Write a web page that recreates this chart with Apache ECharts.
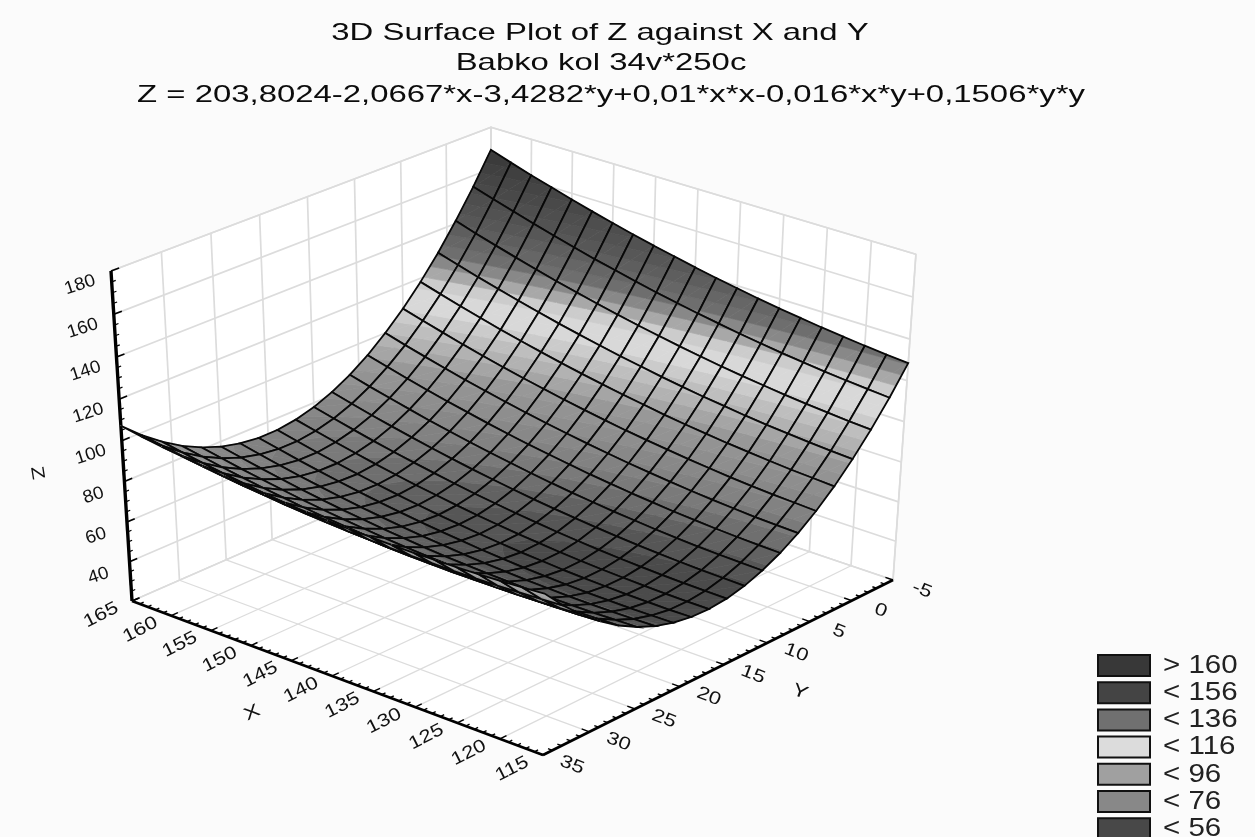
<!DOCTYPE html>
<html><head><meta charset="utf-8">
<style>html,body{margin:0;padding:0;background:#fbfbfb}#c{width:1255px;height:837px}</style>
<script src="https://cdn.jsdelivr.net/npm/echarts@6/dist/echarts.min.js"></script>
</head><body><div id="c"></div>
<script>
var titleLines = ['3D Surface Plot of Z against X and Y','Babko kol 34v*250c','Z = 203,8024-2,0667*x-3,4282*y+0,01*x*x-0,016*x*y+0,1506*y*y'];
var xValues = [115,117.5,120,122.5,125,127.5,130,132.5,135,137.5,140,142.5,145,147.5,150,152.5,155,157.5,160,162.5,165];
var yValues = [-5,-3,-1,1,3,5,7,9,11,13,15,17,19,21,23,25,27,29,31,33,35];
var zAtYm5=[128.5,129.3,130.3,131.4,132.6,134.0,135.4,137.0,138.8,140.6,142.6,144.7,146.9,149.2,151.7,154.3,157.0,159.9,162.8,165.9,169.2];
var zAtYm3=[115.5,116.3,117.2,118.2,119.4,120.6,122.0,123.5,125.2,126.9,128.8,130.8,133.0,135.3,137.6,140.2,142.8,145.6,148.5,151.5,154.6];
var zAtYm1=[103.8,104.5,105.3,106.2,107.3,108.5,109.8,111.2,112.8,114.5,116.3,118.2,120.3,122.5,124.8,127.2,129.8,132.5,135.3,138.2,141.3];
var zAtY1=[93.3,93.9,94.6,95.5,96.4,97.5,98.8,100.1,101.6,103.2,105.0,106.8,108.8,110.9,113.1,115.5,118.0,120.6,123.3,126.2,129.1];
var zAtY3=[83.9,84.5,85.1,85.9,86.8,87.8,89.0,90.2,91.6,93.2,94.8,96.6,98.5,100.5,102.7,104.9,107.3,109.9,112.5,115.3,118.2];
var zAtY5=[75.8,76.3,76.8,77.5,78.3,79.3,80.4,81.6,82.9,84.3,85.9,87.6,89.4,91.4,93.4,95.6,97.9,100.4,103.0,105.7,108.5];
var zAtY7=[68.9,69.3,69.7,70.4,71.1,72.0,73.0,74.1,75.3,76.7,78.2,79.8,81.5,83.4,85.4,87.5,89.7,92.1,94.6,97.2,100.0];
var zAtY9=[63.2,63.5,63.9,64.4,65.1,65.8,66.8,67.8,69.0,70.2,71.7,73.2,74.8,76.6,78.5,80.6,82.7,85.0,87.4,90.0,92.6];
var zAtY11=[58.7,58.9,59.2,59.6,60.2,60.9,61.8,62.7,63.8,65.0,66.3,67.8,69.4,71.1,72.9,74.9,76.9,79.2,81.5,83.9,86.5];
var zAtY13=[55.3,55.5,55.7,56.1,56.6,57.2,58.0,58.9,59.9,61.0,62.2,63.6,65.1,66.7,68.5,70.4,72.4,74.5,76.7,79.1,81.6];
var zAtY15=[53.2,53.3,53.5,53.8,54.2,54.7,55.4,56.2,57.1,58.2,59.3,60.6,62.0,63.6,65.3,67.1,69.0,71.0,73.2,75.5,77.9];
var zAtY17=[52.3,52.3,52.4,52.6,53.0,53.4,54.0,54.7,55.6,56.5,57.6,58.8,60.2,61.7,63.2,65.0,66.8,68.8,70.9,73.1,75.4];
var zAtY19=[52.7,52.5,52.6,52.7,53.0,53.3,53.8,54.5,55.2,56.1,57.1,58.3,59.5,60.9,62.4,64.1,65.8,67.7,69.7,71.9,74.1];
var zAtY21=[54.2,54.0,53.9,54.0,54.1,54.4,54.9,55.4,56.1,56.9,57.9,58.9,60.1,61.4,62.8,64.4,66.1,67.9,69.8,71.9,74.0];
var zAtY23=[56.9,56.6,56.5,56.4,56.5,56.8,57.1,57.6,58.2,58.9,59.8,60.7,61.8,63.1,64.4,65.9,67.5,69.2,71.1,73.1,75.2];
var zAtY25=[60.8,60.5,60.2,60.1,60.1,60.3,60.6,61.0,61.5,62.1,62.9,63.8,64.8,66.0,67.2,68.6,70.1,71.8,73.6,75.5,77.5];
var zAtY27=[65.9,65.5,65.2,65.0,65.0,65.0,65.2,65.5,66.0,66.5,67.2,68.0,69.0,70.0,71.2,72.5,74.0,75.6,77.2,79.1,81.0];
var zAtY29=[72.3,71.8,71.4,71.1,71.0,70.9,71.1,71.3,71.7,72.1,72.8,73.5,74.3,75.3,76.4,77.7,79.0,80.5,82.1,83.9,85.7];
var zAtY31=[79.8,79.2,78.7,78.4,78.2,78.1,78.1,78.3,78.5,78.9,79.5,80.1,80.9,81.8,82.9,84.0,85.3,86.7,88.2,89.9,91.7];
var zAtY33=[88.5,87.9,87.3,86.9,86.6,86.4,86.4,86.4,86.6,87.0,87.4,88.0,88.7,89.5,90.5,91.5,92.7,94.1,95.5,97.1,98.8];
var zAtY35=[98.5,97.7,97.1,96.6,96.2,96.0,95.8,95.8,96.0,96.2,96.6,97.1,97.7,98.4,99.3,100.3,101.4,102.7,104.0,105.5,107.2];
var zGrid=[zAtYm5,zAtYm3,zAtYm1,zAtY1,zAtY3,zAtY5,zAtY7,zAtY9,zAtY11,zAtY13,zAtY15,zAtY17,zAtY19,zAtY21,zAtY23,zAtY25,zAtY27,zAtY29,zAtY31,zAtY33,zAtY35];
var xTickLabels=[115,120,125,130,135,140,145,150,155,160,165];
var yTickLabels=[-5,0,5,10,15,20,25,30,35];
var zTickLabels=[40,60,80,100,120,140,160,180];
var legendLabels=['> 160','< 156','< 136','< 116','< 96','< 76','< 56'];
var legendGrays=[0x38,0x44,0x70,0xdc,0xa0,0x88,0x48];
var shadeLevels=[48,52,56,62,68,75,82,90,95,100,105,110,117,119,122,125,129,141,155,169];
var shadeGrays=[0x40,0x46,0x50,0x62,0x76,0x84,0x8e,0x98,0xa8,0xb8,0xc8,0xd8,0xd8,0xc0,0xa8,0x90,0x70,0x58,0x48,0x38];
var BAND=4;

var XMIN=115,XMAX=165,YMIN=-5,YMAX=35,ZMIN=20,ZMAX=180;
var cam=(function(){
  var p00=[132,601],p10=[543,755],p01=[491,444],p11=[893,580],top00=[111,271],i=-0.055;
  var dx1=p10[0]-p11[0],dx2=p01[0]-p11[0],sx=p00[0]-p10[0]+p11[0]-p01[0];
  var dy1=p10[1]-p11[1],dy2=p01[1]-p11[1],sy=p00[1]-p10[1]+p11[1]-p01[1];
  var det=dx1*dy2-dx2*dy1,g=(sx*dy2-dx2*sy)/det,h=(dx1*sy-sx*dy1)/det;
  return {g:g,h:h,i:i,
    A:[p10[0]-p00[0]+g*p10[0],p10[1]-p00[1]+g*p10[1]],
    B:[p01[0]-p00[0]+h*p01[0],p01[1]-p00[1]+h*p01[1]],
    C:[top00[0]*(1+i)-p00[0],top00[1]*(1+i)-p00[1]],D:p00};
})();
function project(X,Y,Z){
  var u=(XMAX-X)/(XMAX-XMIN),v=(YMAX-Y)/(YMAX-YMIN),w=(Z-ZMIN)/(ZMAX-ZMIN);
  var d=1+cam.g*u+cam.h*v+cam.i*w;
  return [(cam.A[0]*u+cam.B[0]*v+cam.C[0]*w+cam.D[0])/d,(cam.A[1]*u+cam.B[1]*v+cam.C[1]*w+cam.D[1])/d];
}
function shade(z){
  var n=shadeLevels.length,g;
  if(z<=shadeLevels[0])g=shadeGrays[0];
  else if(z>=shadeLevels[n-1])g=shadeGrays[n-1];
  else for(var k=0;k<n-1;k++)if(z>=shadeLevels[k]&&z<shadeLevels[k+1]){
    g=shadeGrays[k]+(shadeGrays[k+1]-shadeGrays[k])*(z-shadeLevels[k])/(shadeLevels[k+1]-shadeLevels[k]);break;}
  g=Math.round(g);return 'rgb('+g+','+g+','+g+')';
}
function clipZ(poly,level,above){
  var out=[];
  for(var k=0;k<poly.length;k++){
    var a=poly[k],b=poly[(k+1)%poly.length];
    var ia=above?a[2]>=level:a[2]<=level, ib=above?b[2]>=level:b[2]<=level;
    if(ia)out.push(a);
    if(ia!==ib){var t=(level-a[2])/(b[2]-a[2]);out.push([a[0]+(b[0]-a[0])*t,a[1]+(b[1]-a[1])*t,level]);}
  }
  return out;
}
var chart=echarts.init(document.getElementById('c'),null,{renderer:'canvas'});
function pt(api,X,Y,Z){return api.coord(project(X,Y,Z));}

var walls=[[XMAX,YMAX,ZMIN, XMAX,YMIN,ZMIN, XMAX,YMIN,ZMAX, XMAX,YMAX,ZMAX],
           [XMAX,YMIN,ZMIN, XMIN,YMIN,ZMIN, XMIN,YMIN,ZMAX, XMAX,YMIN,ZMAX],
           [XMAX,YMAX,ZMIN, XMIN,YMAX,ZMIN, XMIN,YMIN,ZMIN, XMAX,YMIN,ZMIN]];
var wallSegs=[],floorSegs=[];
xTickLabels.forEach(function(x){floorSegs.push([x,YMAX,ZMIN,x,YMIN,ZMIN]);wallSegs.push([x,YMIN,ZMIN,x,YMIN,ZMAX]);});
yTickLabels.forEach(function(y){floorSegs.push([XMAX,y,ZMIN,XMIN,y,ZMIN]);wallSegs.push([XMAX,y,ZMIN,XMAX,y,ZMAX]);});
zTickLabels.forEach(function(z){wallSegs.push([XMAX,YMAX,z,XMAX,YMIN,z],[XMAX,YMIN,z,XMIN,YMIN,z]);});
var cells=[];
for(var j=0;j<yValues.length-1;j++)for(var i=xValues.length-2;i>=0;i--)cells.push([i,j]);
var axisSegs=[[XMAX,YMAX,ZMIN,XMIN,YMAX,ZMIN,2.8],[XMIN,YMAX,ZMIN,XMIN,YMIN,ZMIN,2.8],[XMAX,YMAX,ZMIN,XMAX,YMAX,ZMAX,3.4]];
var v;
for(v=XMIN;v<=XMAX;v+=1){var mj=v%5===0;axisSegs.push([v,YMAX,ZMIN,v,YMAX-(mj?0.7:0.4),ZMIN,1.4]);}
for(v=YMIN;v<=YMAX;v+=1){var mj2=v%5===0;axisSegs.push([XMIN,v,ZMIN,XMIN+(mj2?0.9:0.5),v,ZMIN,1.4]);}
for(v=ZMIN;v<=ZMAX;v+=5){var mj3=v%20===0;axisSegs.push([XMAX,YMAX,v,XMAX,YMAX-(mj3?0.8:0.4),v,mj3?1.6:1.2]);}
var textItems=[];
xTickLabels.forEach(function(x){textItems.push([x,YMAX,ZMIN,String(x),-31,14,-27,1.22]);});
yTickLabels.forEach(function(y){textItems.push([XMIN,y,ZMIN,String(y),29,10,21,1.22]);});
zTickLabels.forEach(function(z){textItems.push([XMAX,YMAX,z,String(z),-31,14,-18,1.05]);});

function lineSeries(data,stroke,widthIdx,fixed){
  return {type:'custom',coordinateSystem:'cartesian2d',silent:true,animation:false,clip:false,progressive:0,
    encode:{x:0,y:1},data:data,
    renderItem:function(p,api){
      var a=pt(api,api.value(0),api.value(1),api.value(2)),b=pt(api,api.value(3),api.value(4),api.value(5));
      return {type:'line',shape:{x1:a[0],y1:a[1],x2:b[0],y2:b[1]},style:{stroke:stroke,lineWidth:fixed||api.value(widthIdx),fill:null}};
    }};
}
var titleCenters=[600,601,611], titleRows=[33,63,95];
var option={
  animation:false,backgroundColor:'#fbfbfb',
  grid:{left:0,right:0,top:0,bottom:0},
  xAxis:{type:'value',min:0,max:1255,show:false},
  yAxis:{type:'value',min:0,max:837,inverse:true,show:false},
  series:[
    {type:'custom',coordinateSystem:'cartesian2d',silent:true,clip:false,animation:false,progressive:0,encode:{x:0,y:1},data:walls,
     renderItem:function(p,api){var pts=[];for(var k=0;k<4;k++)pts.push(pt(api,api.value(k*3),api.value(k*3+1),api.value(k*3+2)));
       return {type:'polygon',shape:{points:pts},style:{fill:'#fff',stroke:'#dcdcdc',lineWidth:1.5}};}},
    lineSeries(wallSegs,'#dcdcdc',0,1.7),
    lineSeries(floorSegs,'#dcdcdc',0,1.3),
    lineSeries(axisSegs,'#000',6),
    {type:'custom',coordinateSystem:'cartesian2d',silent:true,clip:false,animation:false,progressive:0,encode:{x:0,y:1},data:cells,
     renderItem:function(p,api){
       var i=api.value(0),j=api.value(1),ch=[];
       var c00=[xValues[i],yValues[j],zGrid[j][i]],c10=[xValues[i+1],yValues[j],zGrid[j][i+1]],
           c01=[xValues[i],yValues[j+1],zGrid[j+1][i]],c11=[xValues[i+1],yValues[j+1],zGrid[j+1][i+1]];
       [[c00,c10,c11],[c00,c11,c01]].forEach(function(tri){
         var lo=Math.min(tri[0][2],tri[1][2],tri[2][2]),hi=Math.max(tri[0][2],tri[1][2],tri[2][2]);
         for(var L=Math.floor(lo/BAND)*BAND;L<hi;L+=BAND){
           var poly=clipZ(clipZ(tri,L,true),L+BAND,false);
           if(poly.length<3)continue;
           var c=shade(L+BAND/2);
           ch.push({type:'polygon',shape:{points:poly.map(function(q){return pt(api,q[0],q[1],q[2]);})},style:{fill:c,stroke:c,lineWidth:0.7}});
         }
       });
       ch.push({type:'polygon',shape:{points:[c00,c10,c11,c01].map(function(q){return pt(api,q[0],q[1],q[2]);})},style:{fill:null,stroke:'#080808',lineWidth:1.8}});
       return {type:'group',children:ch};
     }},
    {type:'custom',coordinateSystem:'cartesian2d',silent:true,clip:false,animation:false,progressive:0,encode:{x:0,y:1},data:textItems,
     renderItem:function(p,api){
       var d=textItems[p.dataIndex],a=pt(api,d[0],d[1],d[2]);
       return {type:'text',x:a[0]+d[4],y:a[1]+d[5],rotation:-d[6]*Math.PI/180,scaleX:d[7],
         style:{text:d[3],fill:'#111',font:'18px "Liberation Sans"',align:'center',verticalAlign:'middle'}};
     }}
  ],
  graphic:{elements:titleLines.map(function(t,k){
      return {type:'text',x:titleCenters[k],y:titleRows[k],scaleX:1.37,style:{text:t,fill:'#0c0c0c',font:'24px "Liberation Sans"',align:'center',verticalAlign:'middle'}};
    }).concat([
    {type:'text',x:37,y:473,rotation:-Math.PI*0.45,scaleX:1.2,style:{text:'Z',fill:'#111',font:'18px "Liberation Sans"',align:'center',verticalAlign:'middle'}},
    {type:'text',x:252,y:713,rotation:0.45,scaleX:1.3,style:{text:'X',fill:'#111',font:'18px "Liberation Sans"',align:'center',verticalAlign:'middle'}},
    {type:'text',x:800,y:692,rotation:-0.35,scaleX:1.3,style:{text:'Y',fill:'#111',font:'18px "Liberation Sans"',align:'center',verticalAlign:'middle'}}
  ]).concat(legendLabels.map(function(t,k){
    return {type:'group',children:[
      {type:'rect',shape:{x:1098,y:655+27.2*k,width:52,height:21},style:{fill:'rgb('+legendGrays[k]+','+legendGrays[k]+','+legendGrays[k]+')',stroke:'#111',lineWidth:2}},
      {type:'text',x:1163,y:666+27.2*k,scaleX:1.18,style:{text:t,fill:'#222',font:'25px "Liberation Sans"',align:'left',verticalAlign:'middle'}}
    ]};
  }))}
};
chart.setOption(option);
</script></body></html>
